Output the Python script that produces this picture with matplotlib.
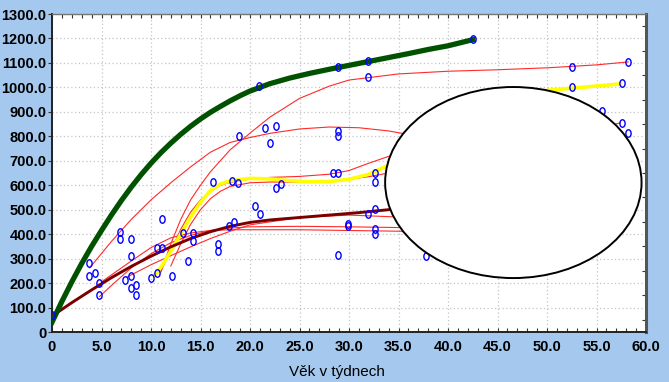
import matplotlib
matplotlib.use("Agg")
import matplotlib.pyplot as plt
from matplotlib.patches import Ellipse
from matplotlib.path import Path
from matplotlib.ticker import MultipleLocator, FuncFormatter

# ---- data -------------------------------------------------------------
# observed weights (x = age in weeks, y = weight)
obs_x = [0.0, 3.7, 3.7, 4.3, 4.75, 4.75, 6.9, 6.9, 7.95, 7.95, 7.4, 7.95, 7.95,
         8.45, 8.45, 10.0, 10.6, 11.15, 10.6, 11.1, 12.1, 13.2, 13.7, 14.2, 14.2,
         16.8, 16.8, 17.9, 18.4, 18.9, 16.3, 18.2, 18.8, 20.9, 28.9, 31.95, 31.95,
         42.5, 21.5, 22.6, 22.0, 28.9, 28.9, 28.4, 28.9, 32.6, 32.6, 22.6, 23.1,
         52.5, 58.2, 52.5, 57.6, 55.6, 57.6, 58.2, 20.5, 21.0, 31.95, 32.6, 29.9,
         29.9, 32.6, 32.6, 28.9, 37.8]
obs_y = [70, 283, 229, 243, 199, 151, 410, 380, 380, 312, 213, 229, 181,
         191, 150, 222, 342, 342, 242, 462, 229, 403, 290, 403, 372,
         361, 330, 433, 451, 803, 612, 618, 610, 1005, 1085, 1108, 1044,
         1197, 833, 842, 774, 822, 801, 651, 651, 651, 613, 590, 603,
         1083, 1105, 1003, 1017, 903, 853, 812, 515, 482, 482, 501, 441,
         433, 420, 400, 315, 312]

# individual growth curves
red_curves = [
    ([11, 12, 13, 14, 15, 16, 18, 20, 22, 25, 28, 30, 35, 40, 45, 50, 55, 58.2],
     [245, 360, 460, 540, 600, 655, 745, 813, 878, 955, 1005, 1030, 1055, 1066, 1072, 1080, 1092, 1104]),
    ([3.8, 6, 8, 10, 12, 14, 16, 18, 20, 22, 25, 28, 31, 34, 37],
     [262, 370, 460, 540, 610, 675, 735, 775, 795, 812, 830, 838, 835, 822, 800]),
    ([11, 12, 13, 14, 15, 16, 17, 18, 20, 22, 25, 28, 30, 32, 34, 36],
     [250, 330, 420, 490, 540, 575, 600, 612, 625, 632, 636, 645, 660, 690, 718, 745]),
    ([12, 13, 14, 15, 16, 17, 18, 20, 22, 25, 28, 30, 32, 34, 36],
     [270, 360, 440, 500, 545, 575, 595, 610, 613, 613, 618, 625, 635, 650, 665]),
    ([4.8, 6, 8, 10, 12, 14, 16, 18, 20, 25, 30, 35, 38],
     [145, 190, 262, 320, 365, 395, 415, 425, 430, 432, 430, 427, 425]),
    ([5, 8, 10, 12, 14, 16, 18, 20, 25, 30, 35, 38],
     [205, 290, 345, 385, 405, 415, 418, 418, 418, 415, 412, 410]),
    ([7.6, 10, 12, 14, 16, 18, 20, 25, 30, 35, 38],
     [225, 275, 312, 348, 382, 412, 438, 468, 478, 470, 462]),
    ([48, 52, 55, 57.4],
     [760, 800, 830, 855]),
]

yellow_x = [10.2, 11, 12, 13, 14, 15, 16, 17, 18, 20, 22, 24, 26, 28, 30, 32, 34,
            38, 42, 46, 50, 54, 57.6]
yellow_y = [225, 265, 330, 400, 470, 530, 578, 605, 618, 628, 626, 619, 614, 615, 624,
            645, 682, 770, 860, 935, 988, 1002, 1015]

mean_x = [0, 2, 4, 6, 8, 10, 12, 14, 16, 18, 20, 22, 25, 28, 31, 34, 37]
mean_y = [65, 120, 172, 222, 268, 310, 348, 382, 410, 432, 448, 458, 468, 478, 488, 500, 510]

upper_x = [0, 1, 2, 3, 4, 5, 6, 7, 8, 9, 10, 11, 12, 13, 14, 15, 16, 17, 18, 19, 20,
           22, 24, 26, 28, 30, 32, 34, 36, 38, 40, 42.5]
upper_y = [40, 125, 205, 280, 350, 415, 478, 537, 592, 643, 690, 733, 772, 808, 841,
           871, 898, 922, 945, 966, 985, 1015, 1038, 1057, 1074, 1090, 1106, 1122, 1138,
           1155, 1170, 1195]

x_ticks = list(range(0, 61, 5))
y_ticks = list(range(0, 1301, 100))
x_label = "Věk v týdnech"

# ---- figure -------------------------------------------------------------
BG = "#a4c8ee"
fig = plt.figure(figsize=(6.69, 3.82), dpi=100, facecolor=BG)
ax = fig.add_axes([52 / 669, 50 / 382, 594 / 669, 318 / 382])
ax.set_facecolor("white")
ax.set_xlim(0, 60)
ax.set_ylim(0, 1300)

for xs, ys in red_curves:
    ax.plot(xs, ys, color="#ff2a2a", lw=0.8, zorder=2)
ax.plot(yellow_x, yellow_y, color="#ffff00", lw=2.6, zorder=3, solid_capstyle="butt")
ax.plot(mean_x, mean_y, color="#7a0000", lw=2.1, zorder=4)
ax.plot(upper_x, upper_y, color="#005200", lw=3.8, zorder=4)

circ = Path.unit_circle()
oval = Path(circ.vertices * [0.7, 1.0], circ.codes)
ax.plot(obs_x, obs_y, linestyle="none", marker=oval, markersize=5.4,
        markerfacecolor="none", markeredgecolor="#0000ff", markeredgewidth=1.0,
        zorder=5)

ax.add_patch(Ellipse((46.6, 611), 25.9, 781, facecolor="white", edgecolor="black",
                     lw=1.4, zorder=6))

# axes, ticks and grid
ax.set_xticks(x_ticks)
ax.set_yticks(y_ticks)
ax.xaxis.set_minor_locator(MultipleLocator(1))
ax.yaxis.set_minor_locator(MultipleLocator(50))
fmt = FuncFormatter(lambda v, p: "0" if v == 0 else f"{v:.1f}")
ax.xaxis.set_major_formatter(fmt)
ax.yaxis.set_major_formatter(fmt)
ax.grid(True, which="major", color="#c4c4c4", linestyle=(0, (1, 2)), lw=0.9)
ax.set_axisbelow(True)

ax.tick_params(axis="x", which="both", direction="in", top=True, bottom=True,
               length=3, width=0.8, color="#333333", labelsize=10.5, pad=6)
ax.tick_params(axis="y", which="major", direction="out", left=True, right=False,
               length=3, width=0.8, color="#333333", labelsize=10.5, pad=1)
ax.tick_params(axis="y", which="minor", left=False, right=True, direction="in",
               length=3, width=0.8, color="#333333")
for lab in ax.get_xticklabels() + ax.get_yticklabels():
    lab.set_family(["Liberation Sans", "DejaVu Sans"])
    lab.set_fontweight("bold")

ax.spines["left"].set_color("#222222")
ax.spines["left"].set_linewidth(1.4)
ax.spines["bottom"].set_color("#222222")
ax.spines["bottom"].set_linewidth(1.4)
ax.spines["top"].set_color("#777777")
ax.spines["top"].set_linewidth(1.0)
ax.spines["right"].set_color("#555555")
ax.spines["right"].set_linewidth(2.2)

fig.text(337 / 669, 1 - 372 / 382, x_label, ha="center", va="center",
         fontsize=11, family=["Liberation Sans", "DejaVu Sans"], color="black")

fig.savefig("out.png", dpi=100, facecolor=BG)
